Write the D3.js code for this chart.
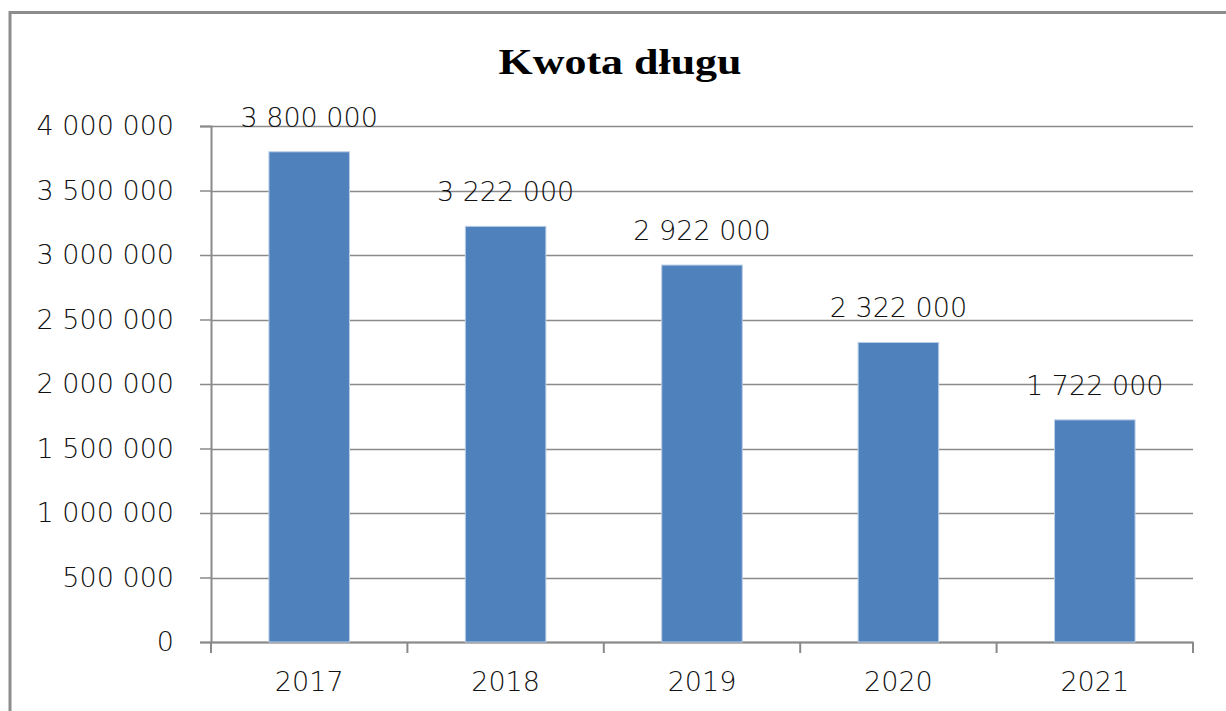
<!DOCTYPE html>
<html>
<head>
<meta charset="utf-8">
<script src="https://cdn.jsdelivr.net/npm/d3@7"></script>
<style>
  body { margin: 0; background: #fff; }
  svg { display: block; }
</style>
</head>
<body>
<svg width="1226" height="711"></svg>
<script>
// chart data
const years = ['2017', '2018', '2019', '2020', '2021'];
const debt = [3800000, 3222000, 2922000, 2322000, 1722000];
const yTicks = [0, 500000, 1000000, 1500000, 2000000, 2500000, 3000000, 3500000, 4000000];
const title = 'Kwota długu';

// numbers with space as thousands separator
const fmt = d3.formatLocale({ decimal: ',', thousands: ' ', grouping: [3], currency: ['', ' zł'] }).format(',d');

function drawChart() {
  const svg = d3.select('svg');
  const margin = { top: 126, right: 33, bottom: 69, left: 211 };
  const width = +svg.attr('width');
  const height = +svg.attr('height');
  const innerWidth = width - margin.left - margin.right;
  const innerHeight = height - margin.top - margin.bottom;
  const font = 'DejaVu Sans, Verdana, sans-serif';
  const weight = 200;

  // outer frame, right and bottom edges fall outside the picture
  svg.append('rect')
    .attr('x', 10).attr('y', 12.5)
    .attr('width', 1240).attr('height', 740)
    .attr('fill', 'none')
    .attr('stroke', '#8c8c8c')
    .attr('stroke-width', 3);

  svg.append('text')
    .attr('x', 620).attr('y', 74)
    .attr('text-anchor', 'middle')
    .attr('font-family', 'Liberation Serif, Times New Roman, serif')
    .attr('font-weight', 'bold')
    .attr('font-size', 35)
    .attr('textLength', 243)
    .attr('lengthAdjust', 'spacingAndGlyphs')
    .text(title);

  const g = svg.append('g')
    .attr('transform', `translate(${margin.left},${margin.top})`);

  const x = d3.scaleBand()
    .domain(years)
    .range([0, innerWidth])
    .paddingInner(0.59)
    .paddingOuter(0.295);

  const y = d3.scaleLinear()
    .domain([0, 4000000])
    .range([innerHeight, 0]);

  // horizontal gridlines
  g.append('g')
    .selectAll('line')
    .data(yTicks)
    .join('line')
    .attr('x1', 0).attr('x2', innerWidth)
    .attr('y1', d => Math.round(y(d)) + 0.5)
    .attr('y2', d => Math.round(y(d)) + 0.5)
    .attr('stroke', '#8a8a8a')
    .attr('stroke-width', 1.5);

  const yAxis = g.append('g')
    .call(d3.axisLeft(y).tickValues(yTicks).tickFormat(fmt).tickSize(11).tickPadding(26));
  yAxis.select('.domain').attr('stroke', '#8a8a8a').attr('stroke-width', 2);
  yAxis.selectAll('.tick line').attr('stroke', '#8a8a8a').attr('stroke-width', 1.5);
  yAxis.selectAll('text')
    .attr('font-family', font)
    .attr('font-weight', weight)
    .attr('font-size', 27)
    .attr('fill', '#111');

  // x axis with ticks on the category boundaries
  const xAxis = g.append('g')
    .attr('transform', `translate(0,${innerHeight})`)
    .call(d3.axisBottom(x).tickSize(0).tickPadding(30));
  xAxis.select('.domain').attr('stroke', '#8a8a8a').attr('stroke-width', 2);
  xAxis.selectAll('text')
    .attr('font-family', font)
    .attr('font-weight', weight)
    .attr('font-size', 27)
    .attr('fill', '#111');
  xAxis.selectAll('.bound')
    .data(d3.range(years.length + 1))
    .join('line')
    .attr('class', 'bound')
    .attr('x1', i => i * x.step()).attr('x2', i => i * x.step())
    .attr('y1', 0).attr('y2', 11)
    .attr('stroke', '#8a8a8a')
    .attr('stroke-width', 2);

  g.selectAll('.bar')
    .data(years)
    .join('rect')
    .attr('class', 'bar')
    .attr('x', (d, i) => x(d))
    .attr('y', (d, i) => y(debt[i]))
    .attr('width', x.bandwidth())
    .attr('height', (d, i) => innerHeight - y(debt[i]))
    .attr('fill', '#4f81bd')
    .attr('stroke', '#b9cde5')
    .attr('stroke-width', 1);

  g.selectAll('.label')
    .data(years)
    .join('text')
    .attr('class', 'label')
    .attr('x', d => x(d) + x.bandwidth() / 2)
    .attr('y', (d, i) => y(debt[i]) - 25)
    .attr('text-anchor', 'middle')
    .attr('font-family', font)
    .attr('font-weight', weight)
    .attr('font-size', 27)
    .attr('fill', '#111')
    .text((d, i) => fmt(debt[i]));
}

drawChart();
</script>
</body>
</html>
